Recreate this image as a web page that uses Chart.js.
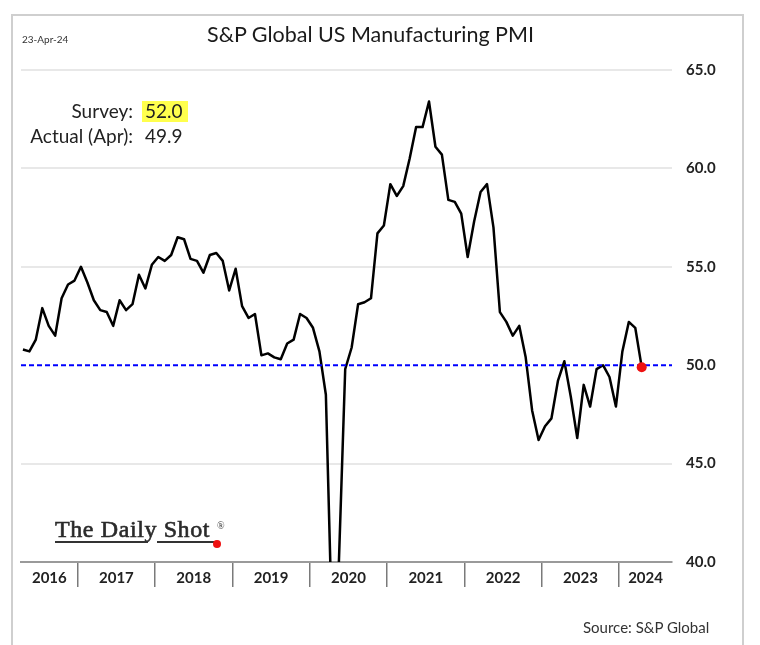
<!DOCTYPE html>
<html><head><meta charset="utf-8">
<script src="https://cdn.jsdelivr.net/npm/chart.js@4.4.1/dist/chart.umd.min.js"></script>
<style>
html,body{margin:0;padding:0;background:#fff;}
#wrap{position:relative;width:760px;height:645px;overflow:hidden;font-family:Lato,'Open Sans',sans-serif;background:#fff;}
#c{position:absolute;left:0;top:0;width:760px;height:645px;}
.t{position:absolute;white-space:nowrap;line-height:1;color:#222;}
#frame{position:absolute;left:11px;top:14px;width:733px;height:660px;border-left:2px solid #cfcfcf;border-top:2px solid #cfcfcf;border-right:2px solid #cfcfcf;box-sizing:border-box;}
#title{left:370.5px;top:24px;font-size:21.5px;transform:translateX(-50%);color:#1a1a1a;}
#date{left:22px;top:34px;font-size:10px;color:#333;}
#surveyLbl{right:627px;top:101px;font-size:19px;}
#surveyVal{left:142px;top:101px;width:46px;height:21px;background:#ffff4d;}
#surveyTxt{left:145px;top:101px;font-size:19px;}
#actualLbl{right:627px;top:126px;font-size:19px;}
#actualTxt{left:145px;top:126px;font-size:19px;}
#source{left:583px;top:620px;font-size:15px;color:#333;}
#logo{left:55px;top:517px;font-size:24px;font-family:'Liberation Serif','DejaVu Serif',serif;color:#2a2a2a;letter-spacing:0.6px;-webkit-text-stroke:0.6px #2a2a2a;}
#reg{left:217px;top:521px;font-size:10px;font-family:'Liberation Serif',serif;color:#333;}
.ul{position:absolute;height:2px;background:#333;}
#dot{position:absolute;left:213px;top:540px;width:8px;height:8px;border-radius:50%;background:#ee1111;}
</style></head>
<body><div id="wrap">
<div id="frame"></div>
<canvas id="c" width="760" height="645"></canvas>
<div class="t" id="date">23-Apr-24</div>
<div class="t" id="title">S&amp;P Global US Manufacturing PMI</div>
<div class="t" id="surveyLbl">Survey:</div>
<div class="t" id="surveyVal"></div>
<div class="t" id="surveyTxt"></div>
<div class="t" id="actualLbl">Actual (Apr):</div>
<div class="t" id="actualTxt"></div>
<div class="t" id="logo">The Daily Shot</div>
<div class="t" id="reg">&reg;</div>
<div class="ul" style="left:55px;top:541px;width:93px;"></div>
<div class="ul" style="left:157px;top:541px;width:60px;"></div>
<div id="dot"></div>
<div class="t" id="source">Source: S&amp;P Global</div>
</div>
<script>
// ---- data ----
const years = ['2016','2017','2018','2019','2020','2021','2022','2023','2024'];
const firstMonth2016 = 4; // series starts in April 2016
const pmi2016 = [50.8, 50.7, 51.3, 52.9, 52.0, 51.5, 53.4, 54.1, 54.3];
const pmi2017 = [55.0, 54.2, 53.3, 52.8, 52.7, 52.0, 53.3, 52.8, 53.1, 54.6, 53.9, 55.1];
const pmi2018 = [55.5, 55.3, 55.6, 56.5, 56.4, 55.4, 55.3, 54.7, 55.6, 55.7, 55.3, 53.8];
const pmi2019 = [54.9, 53.0, 52.4, 52.6, 50.5, 50.6, 50.4, 50.3, 51.1, 51.3, 52.6, 52.4];
const pmi2020 = [51.9, 50.7, 48.5, 36.1, 39.8, 49.8, 50.9, 53.1, 53.2, 53.4, 56.7, 57.1];
const pmi2021 = [59.2, 58.6, 59.1, 60.5, 62.1, 62.1, 63.4, 61.1, 60.7, 58.4, 58.3, 57.7];
const pmi2022 = [55.5, 57.3, 58.8, 59.2, 57.0, 52.7, 52.2, 51.5, 52.0, 50.4, 47.7, 46.2];
const pmi2023 = [46.9, 47.3, 49.2, 50.2, 48.4, 46.3, 49.0, 47.9, 49.8, 50.0, 49.4, 47.9];
const pmi2024 = [50.7, 52.2, 51.9, 49.9];
const threshold = 50;
const surveyValue = 52.0;
const actualValue = 49.9;
const yTicks = [40, 45, 50, 55, 60, 65];

document.getElementById('surveyTxt').textContent = surveyValue.toFixed(1);
document.getElementById('actualTxt').textContent = actualValue.toFixed(1);

// ---- build series: x = months since Jan 2016, mid-month ----
const perYear = [pmi2016, pmi2017, pmi2018, pmi2019, pmi2020, pmi2021, pmi2022, pmi2023, pmi2024];
const series = [];
perYear.forEach((arr, yi) => {
  const m0 = yi === 0 ? firstMonth2016 - 1 : 0;
  arr.forEach((v, i) => series.push({x: yi * 12 + m0 + i + 0.5, y: v}));
});
const last = series[series.length - 1];
const X_MIN = 3.2, X_MAX = 104.2;

const boundaries = years.slice(1).map((y, i) => (i + 1) * 12);
const centers = years.map((y, i) => (Math.max(i * 12, X_MIN) + Math.min((i + 1) * 12, X_MAX)) / 2);
const xTickVals = boundaries.concat(centers).sort((a, b) => a - b);

new Chart(document.getElementById('c'), {
  type: 'line',
  data: {
    datasets: [
      {data: [last], showLine: false, pointRadius: 5, pointBackgroundColor: '#ee1111', pointBorderWidth: 0, order: 0},
      {data: [{x: X_MIN, y: threshold}, {x: X_MAX, y: threshold}], borderColor: '#0000ff', borderWidth: 2, borderDash: [5, 3], pointRadius: 0, order: 1},
      {data: series, borderColor: '#000', borderWidth: 2.5, pointRadius: 0, tension: 0, borderJoinStyle: 'round', order: 2}
    ]
  },
  options: {
    responsive: false,
    animation: false,
    devicePixelRatio: 1,
    layout: {padding: {left: 21, top: 70, right: 28, bottom: 43}},
    plugins: {legend: {display: false}, tooltip: {enabled: false}},
    scales: {
      x: {
        type: 'linear', min: X_MIN, max: X_MAX,
        afterFit: s => { s.height = 40; },
        afterBuildTicks: s => { s.ticks = xTickVals.map(v => ({value: v})); },
        border: {display: true, color: '#9a9a9a', width: 2},
        grid: {
          drawOnChartArea: false, drawTicks: true, tickLength: 25, lineWidth: 1.5,
          color: c => (c.tick && boundaries.includes(c.tick.value)) ? '#7a7a7a' : 'rgba(0,0,0,0)'
        },
        ticks: {
          autoSkip: false, maxRotation: 0, padding: -18, color: '#222',
          font: {family: 'Lato', size: 15, weight: 'bold'},
          callback: v => { const i = centers.indexOf(v); return i >= 0 ? years[i] : ''; }
        }
      },
      y: {
        position: 'right', min: 40, max: 65,
        afterFit: s => { s.width = 60; },
        afterBuildTicks: s => { s.ticks = yTicks.map(v => ({value: v})); },
        border: {display: false},
        grid: {
          drawTicks: false, lineWidth: 2,
          color: c => (c.tick && (c.tick.value === threshold || c.tick.value === 40)) ? 'rgba(0,0,0,0)' : '#e8e8e8'
        },
        ticks: {
          padding: 14, color: '#222',
          font: {family: 'Lato', size: 15, weight: 'bold'},
          callback: v => Number(v).toFixed(1)
        }
      }
    }
  }
});
</script>
</body></html>
